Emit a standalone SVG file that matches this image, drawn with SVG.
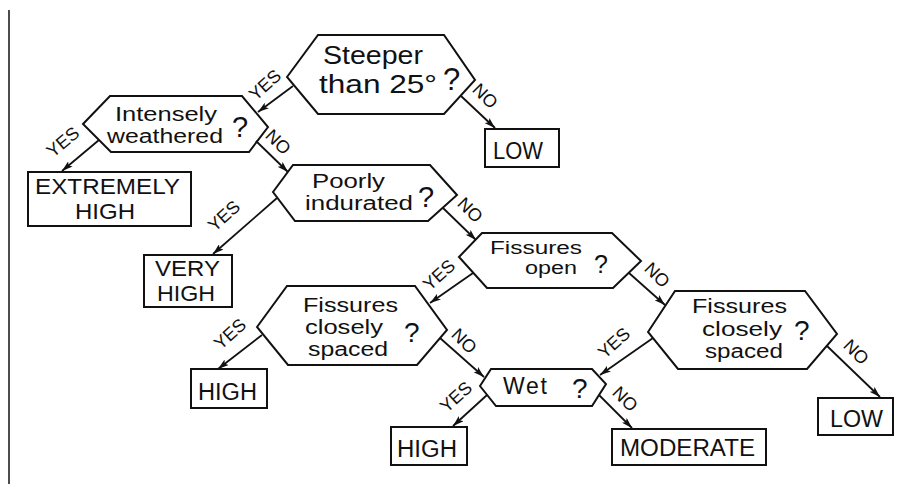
<svg xmlns="http://www.w3.org/2000/svg" width="917" height="486" viewBox="0 0 917 486">
<style>
.shape{fill:none;stroke:#111;stroke-width:2;stroke-linejoin:miter}
.t{font-family:"Liberation Sans",Arial,sans-serif;fill:#111}
.q{font-family:"Liberation Sans",Arial,sans-serif;fill:#111}
.lbl{font-family:"Liberation Sans",Arial,sans-serif;fill:#111;font-size:18px;text-anchor:middle}
.conn line{stroke:#111;stroke-width:1.8;marker-end:url(#ah)}
</style>
<defs>
<marker id="ah" viewBox="0 0 11 7" refX="11" refY="3.5" markerWidth="11" markerHeight="7" markerUnits="userSpaceOnUse" orient="auto">
<path d="M0,0 L11,3.5 L0,7 L2.5,3.5 z" fill="#111"/>
</marker>
</defs>
<rect width="917" height="486" fill="#fff"/>
<line x1="9" y1="10" x2="9" y2="484" stroke="#111" stroke-width="1.5"/>

<g id="n-steeper">
<polygon class="shape" points="287,77 318,35 444,35 475,80 444,114 318,114"/>
<text class="t" x="323" y="64" font-size="25" textLength="100" lengthAdjust="spacingAndGlyphs">Steeper</text>
<text class="t" x="319" y="93" font-size="25" textLength="118" lengthAdjust="spacingAndGlyphs">than  25°</text>
<text class="q" x="443" y="90" font-size="31">?</text>
</g>

<g id="n-intensely">
<polygon class="shape" points="83,124 110,96 242,96 268,127 249,152 111,152"/>
<text class="t" x="115" y="121" font-size="19.5" textLength="102" lengthAdjust="spacingAndGlyphs">Intensely</text>
<text class="t" x="107" y="143" font-size="19.5" textLength="116" lengthAdjust="spacingAndGlyphs">weathered</text>
<text class="q" x="232" y="137" font-size="29">?</text>
</g>

<g id="n-poorly">
<polygon class="shape" points="273,192 293,165 430,165 457,195 428,221 295,221"/>
<text class="t" x="312" y="188" font-size="19.5" textLength="73" lengthAdjust="spacingAndGlyphs">Poorly</text>
<text class="t" x="305" y="210" font-size="19.5" textLength="108" lengthAdjust="spacingAndGlyphs">indurated</text>
<text class="q" x="418" y="207" font-size="29">?</text>
</g>

<g id="n-open">
<polygon class="shape" points="459,257 482,233 612,233 641,261 613,288 487,288"/>
<text class="t" x="490" y="254" font-size="17.5" textLength="92" lengthAdjust="spacingAndGlyphs">Fissures</text>
<text class="t" x="525" y="274" font-size="17.5" textLength="52" lengthAdjust="spacingAndGlyphs">open</text>
<text class="q" x="594" y="273" font-size="25">?</text>
</g>

<g id="n-spaced-left">
<polygon class="shape" points="257,327 287,286 415,286 447,330 417,365 288,365"/>
<text class="t" x="303" y="312" font-size="19.5" textLength="95" lengthAdjust="spacingAndGlyphs">Fissures</text>
<text class="t" x="305" y="334" font-size="19.5" textLength="78" lengthAdjust="spacingAndGlyphs">closely</text>
<text class="t" x="308" y="356" font-size="19.5" textLength="80" lengthAdjust="spacingAndGlyphs">spaced</text>
<text class="q" x="404" y="342" font-size="28">?</text>
</g>

<g id="n-spaced-right">
<polygon class="shape" points="648,332 675,291 805,291 837,334 807,369 678,369"/>
<text class="t" x="692" y="313" font-size="19.5" textLength="95" lengthAdjust="spacingAndGlyphs">Fissures</text>
<text class="t" x="702" y="336" font-size="19.5" textLength="80" lengthAdjust="spacingAndGlyphs">closely</text>
<text class="t" x="705" y="358" font-size="19.5" textLength="78" lengthAdjust="spacingAndGlyphs">spaced</text>
<text class="q" x="794" y="340" font-size="28">?</text>
</g>

<g id="n-wet">
<polygon class="shape" points="480,386 491,369 592,369 606,384 592,406 496,406"/>
<text class="t" x="503" y="394" font-size="23" textLength="44" lengthAdjust="spacing">Wet</text>
<text class="q" x="572" y="398" font-size="28">?</text>
</g>

<g id="n-low-top">
<rect class="shape" x="485" y="129" width="74" height="38"/>
<text class="t" x="493" y="159" font-size="23" textLength="50" lengthAdjust="spacingAndGlyphs">LOW</text>
</g>

<g id="n-extremely">
<rect class="shape" x="28" y="172" width="163" height="54"/>
<text class="t" x="35" y="194" font-size="22" textLength="145" lengthAdjust="spacingAndGlyphs">EXTREMELY</text>
<text class="t" x="75" y="219" font-size="22" textLength="60" lengthAdjust="spacingAndGlyphs">HIGH</text>
</g>

<g id="n-veryhigh">
<rect class="shape" x="144" y="255" width="88" height="52"/>
<text class="t" x="155" y="276" font-size="22" textLength="65" lengthAdjust="spacingAndGlyphs">VERY</text>
<text class="t" x="157" y="301" font-size="22" textLength="58" lengthAdjust="spacingAndGlyphs">HIGH</text>
</g>

<g id="n-high-left">
<rect class="shape" x="191" y="369" width="76" height="39"/>
<text class="t" x="198" y="400" font-size="23" textLength="59" lengthAdjust="spacingAndGlyphs">HIGH</text>
</g>

<g id="n-high-bottom">
<rect class="shape" x="391" y="427" width="76" height="38"/>
<text class="t" x="397" y="457" font-size="23" textLength="60" lengthAdjust="spacingAndGlyphs">HIGH</text>
</g>

<g id="n-moderate">
<rect class="shape" x="612" y="429" width="154" height="36"/>
<text class="t" x="620" y="456" font-size="23" textLength="135" lengthAdjust="spacingAndGlyphs">MODERATE</text>
</g>

<g id="n-low-right">
<rect class="shape" x="818" y="398" width="75" height="37"/>
<text class="t" x="830" y="427" font-size="23" textLength="53" lengthAdjust="spacingAndGlyphs">LOW</text>
</g>

<g id="connectors" class="conn">
<line x1="293" y1="86" x2="258" y2="112"/>
<line x1="461" y1="96" x2="495" y2="128"/>
<line x1="99" y1="140" x2="62" y2="171"/>
<line x1="256" y1="141" x2="288" y2="172"/>
<line x1="277" y1="198" x2="213" y2="254"/>
<line x1="443" y1="208" x2="476" y2="240"/>
<line x1="473" y1="273" x2="430" y2="303"/>
<line x1="629" y1="273" x2="665" y2="305"/>
<line x1="262" y1="335" x2="218" y2="369"/>
<line x1="440" y1="338" x2="484" y2="377"/>
<line x1="653" y1="338" x2="600" y2="375"/>
<line x1="827" y1="346" x2="880" y2="397"/>
<line x1="487" y1="395" x2="453" y2="426"/>
<line x1="599" y1="395" x2="632" y2="428"/>

<text class="lbl" transform="translate(265,85) rotate(-42)" y="6">YES</text>
<text class="lbl" transform="translate(485,96) rotate(45)" y="6">NO</text>
<text class="lbl" transform="translate(63,142) rotate(-40)" y="6">YES</text>
<text class="lbl" transform="translate(278,142) rotate(45)" y="6">NO</text>
<text class="lbl" transform="translate(224,216) rotate(-42)" y="6">YES</text>
<text class="lbl" transform="translate(470,210) rotate(45)" y="6">NO</text>
<text class="lbl" transform="translate(439,275) rotate(-42)" y="6">YES</text>
<text class="lbl" transform="translate(657,275) rotate(45)" y="6">NO</text>
<text class="lbl" transform="translate(230,334) rotate(-42)" y="6">YES</text>
<text class="lbl" transform="translate(464,341) rotate(45)" y="6">NO</text>
<text class="lbl" transform="translate(614,343) rotate(-42)" y="6">YES</text>
<text class="lbl" transform="translate(856,352) rotate(45)" y="6">NO</text>
<text class="lbl" transform="translate(456,397) rotate(-42)" y="6">YES</text>
<text class="lbl" transform="translate(625,399) rotate(45)" y="6">NO</text>
</g>
</svg>
